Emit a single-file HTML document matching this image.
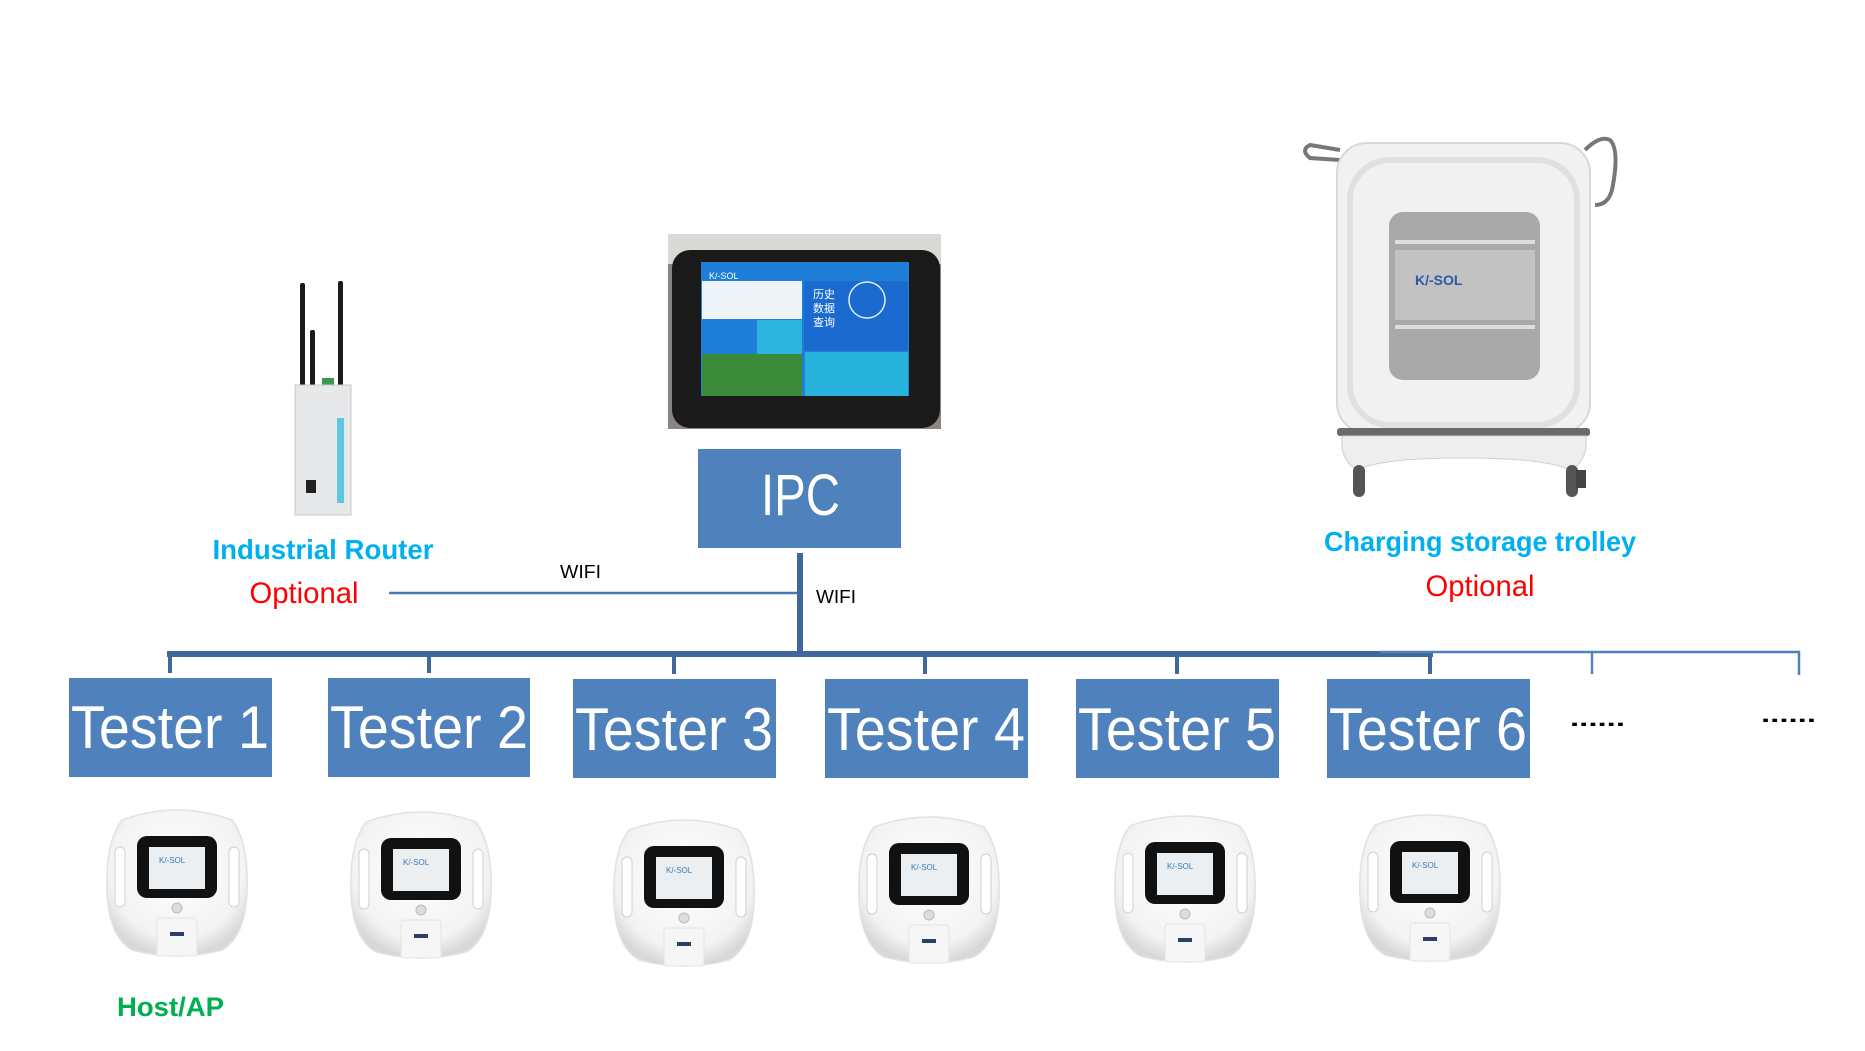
<!DOCTYPE html>
<html><head><meta charset="utf-8"><style>
html,body{margin:0;padding:0;background:#fff;}
svg{display:block;}
text{font-family:"Liberation Sans",sans-serif;}
</style></head><body>
<svg width="1865" height="1051" viewBox="0 0 1865 1051" xmlns="http://www.w3.org/2000/svg">
<defs>
<radialGradient id="dg" cx="50%" cy="40%" r="60%"><stop offset="0" stop-color="#ffffff"/><stop offset="0.8" stop-color="#f3f3f3"/><stop offset="1" stop-color="#d8d8d8"/></radialGradient>
<g id="dev">
  <path d="M-55,-62 Q0,-82 55,-62 Q72,-40 70,10 Q68,55 45,68 Q0,80 -45,68 Q-68,55 -70,10 Q-72,-40 -55,-62 Z" fill="url(#dg)" stroke="#e2e2e2" stroke-width="1.5"/>
  <rect x="-62" y="-35" width="10" height="60" rx="5" fill="#fff" stroke="#d0d0d0"/>
  <rect x="52" y="-35" width="10" height="60" rx="5" fill="#fff" stroke="#d0d0d0"/>
  <rect x="-40" y="-46" width="80" height="62" rx="10" fill="#111"/>
  <rect x="-28" y="-35" width="56" height="42" fill="#eceff2"/>
  <text x="-18" y="-19" font-size="8" fill="#3a7ab8">K/-SOL</text>
  <circle cx="0" cy="26" r="5" fill="#ddd" stroke="#bbb"/>
  <rect x="-20" y="36" width="40" height="38" rx="3" fill="#f6f6f6" stroke="#e4e4e4"/>
  <rect x="-7" y="50" width="14" height="4" fill="#2a3f6a"/>
</g>
</defs>

<!-- Router -->
<rect x="300" y="283" width="5" height="130" rx="2" fill="#1b1b1b"/>
<rect x="338" y="281" width="5" height="110" rx="2" fill="#1b1b1b"/>
<rect x="310" y="330" width="5" height="120" rx="2" fill="#1b1b1b"/>
<rect x="322" y="378" width="12" height="10" fill="#3a9a50"/>
<rect x="295" y="385" width="56" height="130" fill="#e6e8ea" stroke="#c8c8c8"/>
<rect x="337" y="418" width="7" height="85" fill="#5ec6e0"/>
<rect x="306" y="480" width="10" height="13" fill="#222"/>

<!-- Tablet -->
<rect x="668" y="234" width="273" height="195" fill="#8a8580"/>
<rect x="668" y="234" width="273" height="30" fill="#d9d9d6"/>
<rect x="672" y="250" width="268" height="178" rx="18" fill="#1a1a1a"/>
<rect x="701" y="262" width="208" height="134" fill="#1f7fd8"/>
<rect x="702" y="281" width="100" height="38" fill="#eef3f8"/>
<rect x="804" y="281" width="104" height="70" fill="#1a6ad0"/>
<rect x="757" y="320" width="45" height="34" fill="#2cb4de"/>
<rect x="702" y="354" width="100" height="42" fill="#3b8a3a"/>
<rect x="805" y="352" width="103" height="44" fill="#27b3db"/>
<circle cx="867" cy="300" r="18" fill="none" stroke="#dfefff" stroke-width="1.5"/>
<text x="709" y="279" font-size="9" fill="#fff">K/-SOL</text>
<text x="813" y="298" font-size="11" fill="#fff" font-family="'Noto Sans CJK SC',sans-serif">历史</text>
<text x="813" y="312" font-size="11" fill="#fff" font-family="'Noto Sans CJK SC',sans-serif">数据</text>
<text x="813" y="326" font-size="11" fill="#fff" font-family="'Noto Sans CJK SC',sans-serif">查询</text>

<!-- Trolley -->
<path d="M1340,150 L1310,145 Q1300,150 1310,158 L1340,160" fill="none" stroke="#777" stroke-width="4"/>
<path d="M1585,150 Q1600,135 1610,140 Q1620,150 1612,190 Q1608,205 1595,205" fill="none" stroke="#777" stroke-width="4"/>
<rect x="1337" y="143" width="253" height="290" rx="30" fill="#f1f1f1" stroke="#d8d8d8" stroke-width="2"/>
<rect x="1350" y="160" width="227" height="265" rx="40" fill="none" stroke="#e0e0e0" stroke-width="6"/>
<rect x="1389" y="212" width="151" height="168" rx="14" fill="#a9a9a9"/>
<rect x="1395" y="240" width="140" height="4" fill="#ddd"/>
<rect x="1395" y="325" width="140" height="4" fill="#ddd"/>
<rect x="1395" y="250" width="140" height="70" fill="#c2c2c2"/>
<text x="1415" y="285" font-size="14" font-weight="bold" fill="#2a5aa8">K/-SOL</text>
<rect x="1337" y="428" width="253" height="8" rx="3" fill="#6a6a6a"/>
<path d="M1342,436 L1586,436 Q1588,462 1570,470 Q1545,458 1463,458 Q1380,458 1358,470 Q1340,462 1342,436 Z" fill="#eeeeee" stroke="#d0d0d0"/>
<rect x="1353" y="465" width="12" height="32" rx="6" fill="#555"/>
<rect x="1566" y="465" width="12" height="32" rx="6" fill="#555"/>
<rect x="1576" y="470" width="10" height="18" fill="#444"/>

<!-- Labels -->
<text x="323" y="559" font-size="28" font-weight="bold" fill="#00b0f0" text-anchor="middle" textLength="221" lengthAdjust="spacingAndGlyphs">Industrial Router</text>
<text x="304" y="603" font-size="30" fill="#ff0000" text-anchor="middle" textLength="109" lengthAdjust="spacingAndGlyphs">Optional</text>
<text x="1480" y="551" font-size="28" font-weight="bold" fill="#00b0f0" text-anchor="middle" textLength="312" lengthAdjust="spacingAndGlyphs">Charging storage trolley</text>
<text x="1480" y="596" font-size="30" fill="#ff0000" text-anchor="middle" textLength="109" lengthAdjust="spacingAndGlyphs">Optional</text>
<text x="560" y="578" font-size="18" fill="#000" textLength="41" lengthAdjust="spacingAndGlyphs">WIFI</text>
<text x="816" y="603" font-size="18" fill="#000" textLength="40" lengthAdjust="spacingAndGlyphs">WIFI</text>
<text x="117" y="1016" font-size="27" font-weight="bold" fill="#00b050" textLength="107" lengthAdjust="spacingAndGlyphs">Host/AP</text>

<!-- IPC -->
<rect x="698" y="449" width="203" height="99" fill="#4f81bd"/>
<text x="761" y="515" font-size="58" fill="#fff" textLength="79" lengthAdjust="spacingAndGlyphs">IPC</text>

<!-- Connectors -->
<line x1="389" y1="593" x2="800" y2="593" stroke="#4a78b4" stroke-width="2.5"/>
<line x1="800" y1="553" x2="800" y2="657" stroke="#41689c" stroke-width="6"/>
<line x1="167" y1="654" x2="1433" y2="654" stroke="#41689c" stroke-width="6"/>
<line x1="1380" y1="652" x2="1800" y2="652" stroke="#4f81bd" stroke-width="2.5"/>
<line x1="1592" y1="652" x2="1592" y2="674" stroke="#4f81bd" stroke-width="2.5"/>
<line x1="1799" y1="651" x2="1799" y2="675" stroke="#4f81bd" stroke-width="2.5"/>
<g stroke="#41689c" stroke-width="4">
<line x1="170" y1="654" x2="170" y2="673"/>
<line x1="429" y1="654" x2="429" y2="673"/>
<line x1="674" y1="654" x2="674" y2="674"/>
<line x1="925" y1="654" x2="925" y2="674"/>
<line x1="1177" y1="654" x2="1177" y2="674"/>
<line x1="1430" y1="654" x2="1430" y2="674"/>
</g>

<!-- Testers -->
<g fill="#4f81bd">
<rect x="69" y="678" width="203" height="99"/>
<rect x="328" y="678" width="202" height="99"/>
<rect x="573" y="679" width="203" height="99"/>
<rect x="825" y="679" width="203" height="99"/>
<rect x="1076" y="679" width="203" height="99"/>
<rect x="1327" y="679" width="203" height="99"/>
</g>
<g font-size="60" fill="#fff">
<text x="71" y="748" textLength="198" lengthAdjust="spacingAndGlyphs">Tester 1</text>
<text x="330" y="748" textLength="198" lengthAdjust="spacingAndGlyphs">Tester 2</text>
<text x="575" y="750" textLength="198" lengthAdjust="spacingAndGlyphs">Tester 3</text>
<text x="827" y="750" textLength="198" lengthAdjust="spacingAndGlyphs">Tester 4</text>
<text x="1078" y="750" textLength="198" lengthAdjust="spacingAndGlyphs">Tester 5</text>
<text x="1329" y="750" textLength="198" lengthAdjust="spacingAndGlyphs">Tester 6</text>
</g>
<text x="1570" y="726" font-size="22" font-weight="bold" fill="#000" textLength="55" lengthAdjust="spacingAndGlyphs">......</text>
<text x="1761" y="722" font-size="22" font-weight="bold" fill="#000" textLength="55" lengthAdjust="spacingAndGlyphs">......</text>

<!-- Devices -->
<use href="#dev" x="177" y="882"/>
<use href="#dev" x="421" y="884"/>
<use href="#dev" x="684" y="892"/>
<use href="#dev" x="929" y="889"/>
<use href="#dev" x="1185" y="888"/>
<use href="#dev" x="1430" y="887"/>
</svg>
</body></html>
